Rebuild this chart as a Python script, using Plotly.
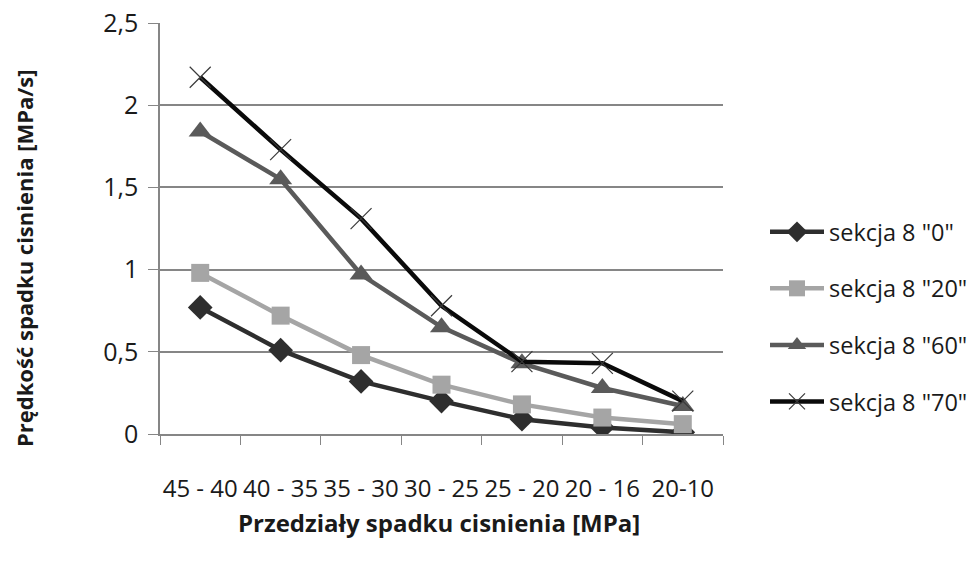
import plotly.graph_objects as go

categories = ["45 - 40", "40 - 35", "35 - 30", "30 - 25", "25 - 20", "20 - 16", "20-10"]
s0 = [0.77, 0.51, 0.32, 0.20, 0.09, 0.04, 0.01]
s20 = [0.98, 0.72, 0.48, 0.30, 0.18, 0.10, 0.06]
s60 = [1.84, 1.55, 0.97, 0.65, 0.43, 0.28, 0.17]
s70 = [2.17, 1.73, 1.31, 0.78, 0.44, 0.43, 0.20]
names = ['sekcja 8 "0"', 'sekcja 8 "20"', 'sekcja 8 "60"', 'sekcja 8 "70"']

FONT = "Open Sans"
W, H = 979, 563
L, R, T, B = 160, 256, 23, 129
pw, ph = W - L - R, H - T - B

fig = go.Figure()
specs = [
    (s0, "#2e2e2e", "diamond", 19),
    (s20, "#a5a5a5", "square", 18),
    (s60, "#5a5a5a", "triangle-up", 20),
    (s70, "#0a0a0a", "x-thin", 21),
]
for i, (vals, col, sym, sz) in enumerate(specs):
    marker = dict(symbol=sym, size=sz, color=col)
    if sym == "x-thin":
        marker = dict(symbol=sym, size=sz, color=col, line=dict(color="#3a3a3a", width=1.2))
    fig.add_trace(go.Scatter(
        x=categories, y=vals, name=names[i], mode="lines+markers",
        line=dict(color=col, width=4.5), marker=marker, legendgroup=str(i),
    ))

def px_x(x):
    return (x - L) / pw

def px_y(y):
    return (H - B - y) / ph

fig.update_layout(
    width=W, height=H,
    margin=dict(l=L, r=R, t=T, b=B, autoexpand=False),
    paper_bgcolor="white", plot_bgcolor="white",
    separators=",.",
    font=dict(family=FONT, size=25, color="#1a1a1a"),
    showlegend=True,
    legend=dict(x=px_x(765), y=px_y(317), xanchor="left", yanchor="middle",
                font=dict(size=23.5), tracegroupgap=23, itemwidth=54,
                bgcolor="rgba(0,0,0,0)"),
    xaxis=dict(type="category", automargin=False, showgrid=False, showline=True,
               linecolor="#868686", linewidth=1.5,
               ticks="outside", tickson="boundaries", ticklen=9, tickcolor="#868686",
               tickfont=dict(size=24), tickangle=0, range=[-0.5, 6.5], ticklabelstandoff=32),
    yaxis=dict(range=[0, 2.5], dtick=0.5, automargin=False, showgrid=True,
               gridcolor="#868686", gridwidth=1.5,
               showline=True, linecolor="#868686", linewidth=1.5, zeroline=False,
               ticks="outside", ticklen=10, tickcolor="#868686", tickfont=dict(size=25),
               ticklabelstandoff=5),
    annotations=[
        dict(text="<b>Przedziały spadku cisnienia [MPa]</b>", x=px_x(439), y=px_y(522),
             xref="paper", yref="paper", xanchor="center", yanchor="middle",
             showarrow=False, font=dict(size=24)),
        dict(text="<b>Prędkość spadku cisnienia [MPa/s]</b>", x=px_x(24), y=px_y(258),
             xref="paper", yref="paper", xanchor="center", yanchor="middle",
             showarrow=False, textangle=-90, font=dict(size=22)),
    ],
)
fig.write_html("out.html")
